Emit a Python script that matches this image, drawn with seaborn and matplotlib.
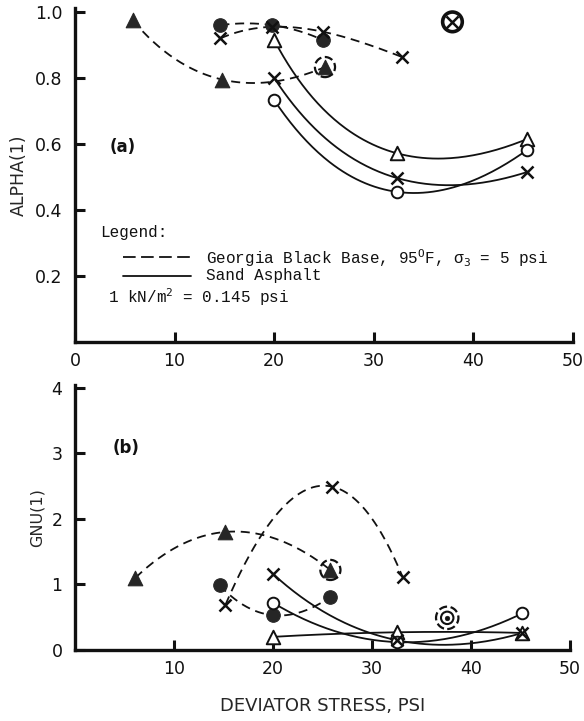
import numpy as np
import pandas as pd
import matplotlib
matplotlib.use("Agg")
import matplotlib.pyplot as plt
from matplotlib import font_manager
import seaborn as sns

# ---------------- data: panel (a) ALPHA(1) ----------------
# Georgia Black Base (dashed)
a_gbb_tri_x = [5.8, 14.8, 25.1]
a_gbb_tri_y = [0.975, 0.795, 0.833]
a_gbb_dot_x = [14.6, 19.8, 24.9]
a_gbb_dot_y = [0.96, 0.96, 0.915]
a_gbb_x_x = [14.6, 19.8, 24.9, 32.8]
a_gbb_x_y = [0.92, 0.955, 0.94, 0.864]
a_single_x = [37.9]
a_single_y = [0.97]
# Sand Asphalt (solid)
a_sa_x = [20.0, 32.3, 45.4]
a_sa_tri_y = [0.915, 0.572, 0.615]
a_sa_x_y = [0.80, 0.497, 0.515]
a_sa_circ_y = [0.733, 0.455, 0.582]

# ---------------- data: panel (b) GNU(1) ----------------
# Georgia Black Base (dashed)
b_gbb_tri_x = [6.1, 15.2, 25.8]
b_gbb_tri_y = [1.10, 1.80, 1.22]
b_gbb_dot_x = [14.6, 20.0, 25.8]
b_gbb_dot_y = [0.99, 0.53, 0.81]
b_gbb_x_x = [15.2, 26.0, 33.1]
b_gbb_x_y = [0.69, 2.49, 1.11]
b_single_x = [37.6]
b_single_y = [0.49]
# Sand Asphalt (solid)
b_sa_x = [20.0, 32.5, 45.2]
b_sa_tri_y = [0.20, 0.27, 0.26]
b_sa_x_y = [1.16, 0.15, 0.26]
b_sa_circ_y = [0.72, 0.12, 0.56]

x_ticks_a = [0, 10, 20, 30, 40, 50]
y_ticks_a = [0.2, 0.4, 0.6, 0.8, 1.0]
y_labels_a = ["0.2", "0.4", "0.6", "0.8", "1.0"]
x_ticks_b = [10, 20, 30, 40, 50]
y_ticks_b = [0, 1, 2, 3, 4]

sns.set_style("ticks")
plt.rcParams["font.family"] = ["DejaVu Sans"]

# narrow sans for axis text when available
_names = {f.name for f in font_manager.fontManager.ttflist}
NARROW = "Liberation Sans Narrow" if "Liberation Sans Narrow" in _names else "DejaVu Sans"
NARROW_SIZE = 14.5 if NARROW == "Liberation Sans Narrow" else 12.5

INK = "#111111"
DASH = (0, (5, 3.2))
TICKFONT = dict(family=NARROW, size=NARROW_SIZE)


def smooth(xs, ys, sx, sy, n=160):
    """Smooth parametric curve through the measured points (chord-length parameter)."""
    xs = np.asarray(xs, float)
    ys = np.asarray(ys, float)
    d = np.hypot(np.diff(xs) * sx, np.diff(ys) * sy)
    t = np.concatenate([[0.0], np.cumsum(d)])
    t /= t[-1]
    deg = len(xs) - 1
    tt = np.linspace(0, 1, n)
    cx = np.polyval(np.polyfit(t, xs, deg), tt)
    cy = np.polyval(np.polyfit(t, ys, deg), tt)
    return pd.DataFrame({"x": cx, "y": cy})


def curve(ax, xs, ys, sx, sy, dashed):
    df = smooth(xs, ys, sx, sy)
    sns.lineplot(data=df, x="x", y="y", ax=ax, sort=False, estimator=None,
                 color=INK, lw=1.3, linestyle=DASH if dashed else "-")


def marks(ax, xs, ys, kind, **kw):
    df = pd.DataFrame({"x": xs, "y": ys})
    if kind == "tri_f":
        sns.scatterplot(data=df, x="x", y="y", ax=ax, marker="^", s=110,
                        color="#262626", edgecolor="#262626", linewidth=0.8, zorder=5)
    elif kind == "tri_o":
        sns.scatterplot(data=df, x="x", y="y", ax=ax, marker="^", s=95,
                        facecolor="white", edgecolor=INK, linewidth=1.4, zorder=5)
    elif kind == "dot_f":
        sns.scatterplot(data=df, x="x", y="y", ax=ax, marker="o", s=95,
                        color="#262626", edgecolor="#262626", linewidth=0.8, zorder=5)
    elif kind == "dot_o":
        sns.scatterplot(data=df, x="x", y="y", ax=ax, marker="o", s=70,
                        facecolor="white", edgecolor=INK, linewidth=1.4, zorder=5)
    elif kind == "x":
        sns.scatterplot(data=df, x="x", y="y", ax=ax, marker="x", s=75,
                        color=INK, linewidth=1.8, zorder=6)
    elif kind == "ring":
        sns.scatterplot(data=df, x="x", y="y", ax=ax, marker="o", s=kw.get("s", 230),
                        facecolor="none", edgecolor=INK, linewidth=kw.get("lw", 1.6),
                        linestyle=kw.get("ls", "-"), zorder=6)
    elif kind == "pt":
        sns.scatterplot(data=df, x="x", y="y", ax=ax, marker="o", s=12,
                        color=INK, edgecolor=INK, zorder=7)


def style_axes(ax, xticks, yticks, ylabels):
    ax.set_xlim(0, 50)
    sns.despine(ax=ax)
    for side in ("left", "bottom"):
        ax.spines[side].set_linewidth(2.4)
        ax.spines[side].set_color(INK)
    ax.set_xticks(xticks)
    ax.set_xticklabels([str(v) for v in xticks], fontdict=TICKFONT)
    ax.set_yticks(yticks)
    ax.set_yticklabels(ylabels, fontdict=TICKFONT)
    ax.tick_params(axis="both", direction="in", length=7, width=2.2, colors=INK)
    ax.tick_params(axis="x", pad=7)
    ax.tick_params(axis="y", pad=9)
    ax.set_xlabel("")
    ax.set_ylabel("")


fig = plt.figure(figsize=(5.84, 7.21), dpi=100)
ax_a = fig.add_axes([0.1284, 0.5257, 0.8527, 0.4632])
ax_b = fig.add_axes([0.1284, 0.0985, 0.8476, 0.3675])

# ---------------- panel (a) ----------------
sxa, sya = 9.96, 330.0
curve(ax_a, a_gbb_tri_x, a_gbb_tri_y, sxa, sya, True)
curve(ax_a, a_gbb_dot_x, a_gbb_dot_y, sxa, sya, True)
curve(ax_a, a_gbb_x_x, a_gbb_x_y, sxa, sya, True)
curve(ax_a, a_sa_x, a_sa_tri_y, sxa, sya, False)
curve(ax_a, a_sa_x, a_sa_x_y, sxa, sya, False)
curve(ax_a, a_sa_x, a_sa_circ_y, sxa, sya, False)

marks(ax_a, a_gbb_tri_x, a_gbb_tri_y, "tri_f")
marks(ax_a, a_gbb_tri_x[2:], a_gbb_tri_y[2:], "ring", ls="--", lw=1.6, s=210)
marks(ax_a, a_gbb_dot_x, a_gbb_dot_y, "dot_f")
marks(ax_a, a_gbb_x_x, a_gbb_x_y, "x")
marks(ax_a, a_single_x, a_single_y, "x")
marks(ax_a, a_single_x, a_single_y, "ring", lw=2.6, s=200)
marks(ax_a, a_sa_x, a_sa_tri_y, "tri_o")
marks(ax_a, a_sa_x, a_sa_x_y, "x")
marks(ax_a, a_sa_x, a_sa_circ_y, "dot_o")

style_axes(ax_a, x_ticks_a, y_ticks_a, y_labels_a)
ax_a.set_ylim(0, 1.012)
ax_a.set_ylabel("ALPHA(1)", family=NARROW, fontsize=NARROW_SIZE, labelpad=5)

ax_a.text(3.5, 0.59, "(a)", fontsize=12, fontweight="semibold",
          va="center", ha="left", color=INK)

mono = dict(family="Liberation Mono", size=11.5, color=INK)
ax_a.text(2.5, 0.331, "Legend:", va="center", ha="left", **mono)
ax_a.plot([4.8, 11.6], [0.257, 0.257], color=INK, lw=1.3, linestyle=(0, (7, 3)))
ax_a.text(13.2, 0.255, r"Georgia Black Base, 95$^{\mathtt{O}}$F, σ$_{\mathtt{3}}$ = 5 psi",
          va="center", ha="left", **mono)
ax_a.plot([4.8, 11.6], [0.2, 0.2], color=INK, lw=1.3)
ax_a.text(13.2, 0.2, "Sand Asphalt", va="center", ha="left", **mono)
ax_a.text(3.3, 0.135, r"1 kN/m$^{\mathtt{2}}$ = 0.145 psi", va="center", ha="left", **mono)

# ---------------- panel (b) ----------------
sxb, syb = 9.9, 65.5
curve(ax_b, b_gbb_tri_x, b_gbb_tri_y, sxb, syb, True)
curve(ax_b, b_gbb_dot_x, b_gbb_dot_y, sxb, syb, True)
curve(ax_b, b_gbb_x_x, b_gbb_x_y, sxb, syb, True)
curve(ax_b, b_sa_x, b_sa_tri_y, sxb, syb, False)
curve(ax_b, b_sa_x, b_sa_x_y, sxb, syb, False)
curve(ax_b, b_sa_x, b_sa_circ_y, sxb, syb, False)

marks(ax_b, b_gbb_tri_x, b_gbb_tri_y, "tri_f")
marks(ax_b, b_gbb_tri_x[2:], b_gbb_tri_y[2:], "ring", ls="--", lw=1.6, s=210)
marks(ax_b, b_gbb_dot_x, b_gbb_dot_y, "dot_f")
marks(ax_b, b_gbb_x_x, b_gbb_x_y, "x")
marks(ax_b, b_single_x, b_single_y, "ring", ls="--", lw=1.6, s=260)
marks(ax_b, b_single_x, b_single_y, "ring", lw=1.5, s=80)
marks(ax_b, b_single_x, b_single_y, "pt")
marks(ax_b, b_sa_x, b_sa_tri_y, "tri_o")
marks(ax_b, b_sa_x, b_sa_x_y, "x")
marks(ax_b, b_sa_x, b_sa_circ_y, "dot_o")

style_axes(ax_b, x_ticks_b, y_ticks_b, [str(v) for v in y_ticks_b])
ax_b.set_ylim(0, 4.04)
ax_b.set_ylabel("GNU(1)", family=NARROW, fontsize=NARROW_SIZE - 1, labelpad=5)
ax_b.set_xlabel("DEVIATOR STRESS, PSI", family=NARROW, fontsize=NARROW_SIZE + 0.5, labelpad=14)
ax_b.text(3.8, 3.08, "(b)", fontsize=12, fontweight="semibold",
          va="center", ha="left", color=INK)

fig.savefig("out.png", dpi=100)
